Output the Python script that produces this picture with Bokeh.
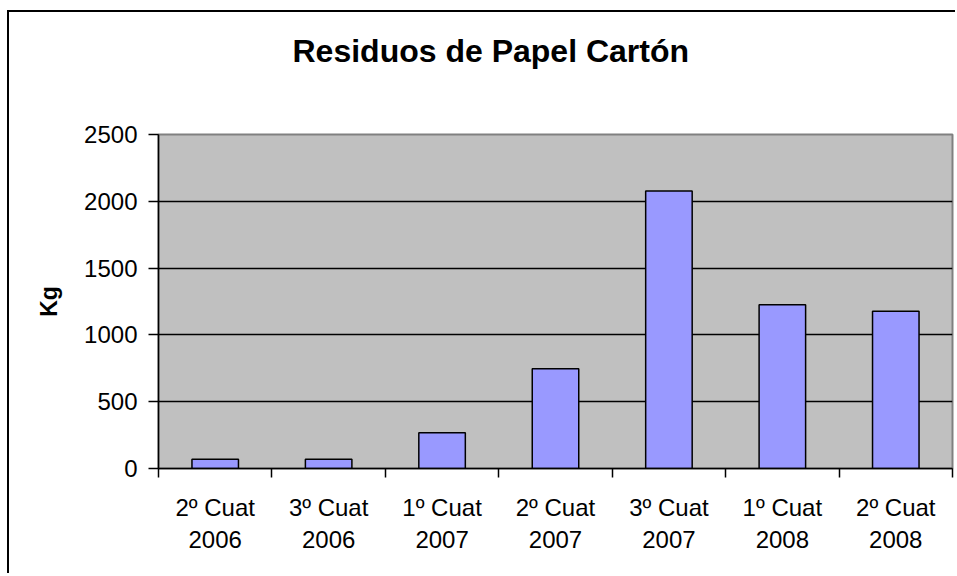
from bokeh.plotting import figure
from bokeh.models import FixedTicker, LinearAxis, Range1d, ColumnDataSource, Grid
from bokeh.embed import file_html
from bokeh.resources import INLINE

categories = ["2º Cuat\n2006", "3º Cuat\n2006", "1º Cuat\n2007", "2º Cuat\n2007",
              "3º Cuat\n2007", "1º Cuat\n2008", "2º Cuat\n2008"]
values = [70, 70, 267, 746, 2078, 1225, 1177]
y_ticks = [0, 500, 1000, 1500, 2000, 2500]
title_text = "Residuos de Papel Cartón"
y_label = "Kg"

FONT = "Liberation Sans"
n = len(categories)
x_pos = [i + 0.5 for i in range(n)]
source = ColumnDataSource(dict(x=x_pos, top=values, label=categories))

p = figure(width=948, height=563, output_backend="svg", toolbar_location=None,
           x_range=Range1d(0, n), y_range=Range1d(0, y_ticks[-1]),
           x_axis_type=None, y_axis_type=None,
           min_border_left=149, min_border_right=5, min_border_top=122, min_border_bottom=107)
p.styles = {"border-left": "2px solid black", "border-top": "2px solid black",
            "margin-top": "10px", "margin-left": "7px"}

p.background_fill_color = "#C0C0C0"
p.border_fill_color = "white"
p.outline_line_color = "#808080"
p.outline_line_width = 2

# trailing empty line lifts the title text within its panel
p.title.text = title_text + "\n"
p.title.align = "left"
p.title.text_font = FONT
p.title.text_font_size = "32px"
p.title.text_font_style = "bold"
p.title.text_color = "black"
p.title.text_line_height = 1.4
p.title.standoff = 30
p.title.offset = 134

grid = Grid(dimension=1, ticker=FixedTicker(ticks=y_ticks[1:-1]),
            grid_line_color="black", grid_line_width=1.5)
p.add_layout(grid)

p.vbar(x="x", top="top", width=0.41, bottom=0, source=source,
       fill_color="#9999FF", line_color="black", line_width=1.5)

yaxis = LinearAxis(ticker=FixedTicker(ticks=y_ticks), axis_label=y_label,
                   axis_line_color="black", axis_line_width=1.5,
                   major_tick_line_color="black", major_tick_line_width=1.5,
                   major_tick_out=10, major_tick_in=0,
                   minor_tick_line_color=None,
                   major_label_standoff=11,
                   major_label_text_font=FONT, major_label_text_font_size="24px",
                   major_label_text_color="black",
                   axis_label_text_font=FONT, axis_label_text_font_size="23px",
                   axis_label_text_font_style="bold", axis_label_text_color="black",
                   axis_label_standoff=19)
p.add_layout(yaxis, "left")

xaxis = LinearAxis(ticker=FixedTicker(ticks=x_pos, minor_ticks=list(range(n + 1))),
                   major_label_overrides={x: c for x, c in zip(x_pos, categories)},
                   axis_line_color="black", axis_line_width=1.5,
                   major_tick_line_color=None, major_tick_out=0, major_tick_in=0,
                   minor_tick_line_color="black", minor_tick_line_width=1.5,
                   minor_tick_out=9, minor_tick_in=0,
                   major_label_standoff=16,
                   major_label_text_font=FONT, major_label_text_font_size="24px",
                   major_label_text_color="black",
                   major_label_text_line_height=1.22)
p.add_layout(xaxis, "below")

open("out.html", "w").write(file_html(p, INLINE))
